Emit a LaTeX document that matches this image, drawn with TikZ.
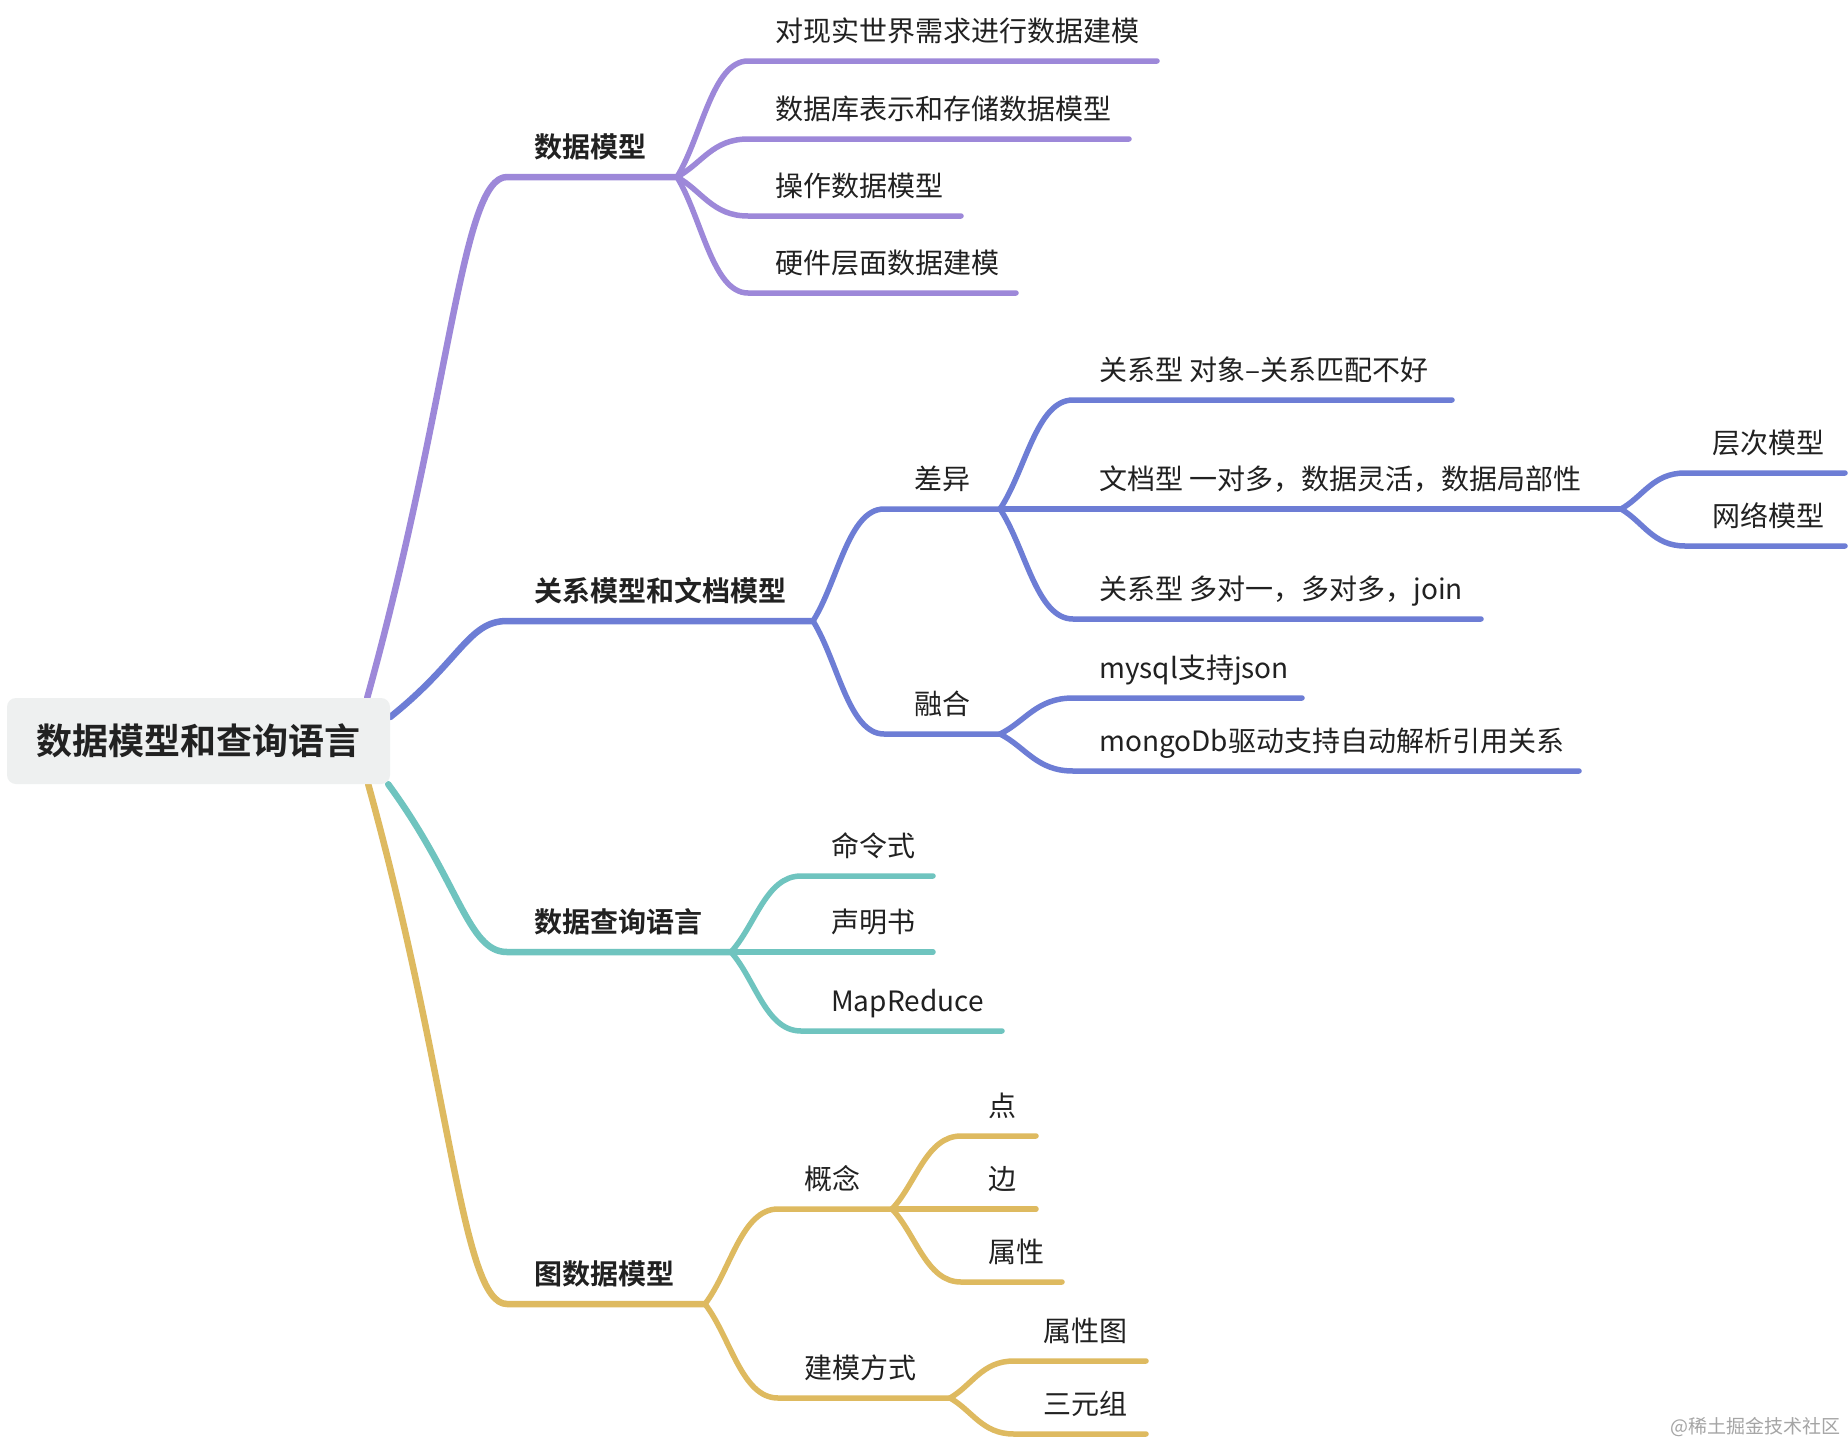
\documentclass[tikz,border=0pt]{standalone}
\usepackage{fontspec}
\setmainfont{Noto Sans CJK SC}[BoldFont={Noto Sans CJK SC Bold}]
\usetikzlibrary{calc,backgrounds}
\definecolor{cpur}{RGB}{157,136,217}
\definecolor{cblu}{RGB}{109,125,213}
\definecolor{ctea}{RGB}{111,196,191}
\definecolor{cgol}{RGB}{222,186,96}
\definecolor{cfill}{RGB}{238,240,240}
\definecolor{ctext}{RGB}{33,33,33}
\definecolor{cwm}{RGB}{165,165,165}
\newcommand\mmlink[7]{%
  \draw[#1] let \p1=(#2), \p2=(#3) in
    (\p1) .. controls ({\x1+#5*(\x2-\x1)},{\y1+#6*(\y2-\y1)}) and ({\x2-#7*(\x2-\x1)},\y2) .. (\p2) -- (#4);}
\tikzset{
  lbl/.style={anchor=base west, inner sep=0pt, font=\fontsize{28}{32}\selectfont, text=ctext},
  lblb/.style={lbl, font=\fontsize{28}{32}\selectfont\bfseries},
  rootbox/.style={fill=cfill, rounded corners=9pt, minimum width=383pt, minimum height=86pt,
    inner sep=0pt, font=\fontsize{36}{40}\selectfont\bfseries, text=ctext},
  wm/.style={inner sep=0pt, font=\fontsize{19}{22}\selectfont, text=cwm},
  lone/.style={line width=6.5pt, line cap=round, line join=round},
  ltwo/.style={line width=5.5pt, line cap=round, line join=round},
  pur1/.style={lone, draw=cpur}, pur2/.style={ltwo, draw=cpur},
  blu1/.style={lone, draw=cblu}, blu2/.style={ltwo, draw=cblu},
  tea1/.style={lone, draw=ctea}, tea2/.style={ltwo, draw=ctea},
  gol1/.style={lone, draw=cgol}, gol2/.style={ltwo, draw=cgol},
}
\begin{document}
\begin{tikzpicture}[x=1pt, y=-1pt]
\useasboundingbox (0,0) rectangle (1848,1443);

% root
\node[rootbox] (root) at (198.5,741) {数据模型和查询语言};
\coordinate (rp) at ([xshift=-23pt]root.north east);
\coordinate (rb) at ([yshift=24pt]root.east);
\coordinate (rt) at ([xshift=-2pt]root.south east);
\coordinate (rg) at ([xshift=-22pt]root.south east);

% ---------- coordinates ----------
% purple
\coordinate (ps) at (507,177); \coordinate (pf) at (677,177);
\coordinate (p1s) at (748,61);  \coordinate (p1e) at (1157,61);
\coordinate (p2s) at (748,139); \coordinate (p2e) at (1129,139);
\coordinate (p3s) at (748,216); \coordinate (p3e) at (961,216);
\coordinate (p4s) at (748,293); \coordinate (p4e) at (1016,293);
% blue
\coordinate (bs) at (507,621); \coordinate (bf) at (813,621);
\coordinate (b1s) at (884,509); \coordinate (b1f) at (1000,509);
\coordinate (b2s) at (884,734); \coordinate (b2f) at (1000,734);
\coordinate (b11s) at (1073,400); \coordinate (b11e) at (1452,400);
\coordinate (b12s) at (1073,509); \coordinate (b12f) at (1621,509);
\coordinate (b121s) at (1685,473); \coordinate (b121e) at (1845,473);
\coordinate (b122s) at (1685,546); \coordinate (b122e) at (1845,546);
\coordinate (b13s) at (1073,619); \coordinate (b13e) at (1481,619);
\coordinate (b21s) at (1073,698); \coordinate (b21e) at (1302,698);
\coordinate (b22s) at (1073,771); \coordinate (b22e) at (1579,771);
% teal
\coordinate (ts) at (507,952); \coordinate (tf) at (731,952);
\coordinate (t1s) at (801,876);  \coordinate (t1e) at (933,876);
\coordinate (t2s) at (801,952);  \coordinate (t2e) at (933,952);
\coordinate (t3s) at (801,1031); \coordinate (t3e) at (1002,1031);
% gold
\coordinate (gs) at (507,1304); \coordinate (gf) at (705,1304);
\coordinate (g1s) at (778,1209); \coordinate (g1f) at (892,1209);
\coordinate (g2s) at (778,1398); \coordinate (g2f) at (950,1398);
\coordinate (g11s) at (961,1136); \coordinate (g11e) at (1036,1136);
\coordinate (g12s) at (961,1209); \coordinate (g12e) at (1036,1209);
\coordinate (g13s) at (961,1282); \coordinate (g13e) at (1062,1282);
\coordinate (g21s) at (1014,1361); \coordinate (g21e) at (1146,1361);
\coordinate (g22s) at (1014,1434); \coordinate (g22e) at (1146,1434);

% ---------- connectors ----------
\begin{scope}[on background layer]
\fill[white] (0,0) rectangle (1848,1443);
\mmlink{pur1}{rp}{ps}{pf}{0.6}{0.58}{0.33}
\mmlink{blu1}{rb}{bs}{bf}{0.6}{0.58}{0.33}
\mmlink{tea1}{rt}{ts}{tf}{0.6}{0.58}{0.33}
\mmlink{gol1}{rg}{gs}{gf}{0.6}{0.58}{0.33}

\mmlink{pur2}{pf}{p1s}{p1e}{0.35}{0.35}{0.5}
\mmlink{pur2}{pf}{p2s}{p2e}{0.35}{0.35}{0.5}
\mmlink{pur2}{pf}{p3s}{p3e}{0.35}{0.35}{0.5}
\mmlink{pur2}{pf}{p4s}{p4e}{0.35}{0.35}{0.5}

\mmlink{blu2}{bf}{b1s}{b1f}{0.35}{0.35}{0.5}
\mmlink{blu2}{bf}{b2s}{b2f}{0.35}{0.35}{0.5}
\mmlink{blu2}{b1f}{b11s}{b11e}{0.35}{0.35}{0.5}
\mmlink{blu2}{b1f}{b12s}{b12f}{0.35}{0.35}{0.5}
\mmlink{blu2}{b1f}{b13s}{b13e}{0.35}{0.35}{0.5}
\mmlink{blu2}{b12f}{b121s}{b121e}{0.35}{0.35}{0.5}
\mmlink{blu2}{b12f}{b122s}{b122e}{0.35}{0.35}{0.5}
\mmlink{blu2}{b2f}{b21s}{b21e}{0.35}{0.35}{0.5}
\mmlink{blu2}{b2f}{b22s}{b22e}{0.35}{0.35}{0.5}

\mmlink{tea2}{tf}{t1s}{t1e}{0.35}{0.35}{0.5}
\mmlink{tea2}{tf}{t2s}{t2e}{0.35}{0.35}{0.5}
\mmlink{tea2}{tf}{t3s}{t3e}{0.35}{0.35}{0.5}

\mmlink{gol2}{gf}{g1s}{g1f}{0.35}{0.35}{0.5}
\mmlink{gol2}{gf}{g2s}{g2f}{0.35}{0.35}{0.5}
\mmlink{gol2}{g1f}{g11s}{g11e}{0.35}{0.35}{0.5}
\mmlink{gol2}{g1f}{g12s}{g12e}{0.35}{0.35}{0.5}
\mmlink{gol2}{g1f}{g13s}{g13e}{0.35}{0.35}{0.5}
\mmlink{gol2}{g2f}{g21s}{g21e}{0.35}{0.35}{0.5}
\mmlink{gol2}{g2f}{g22s}{g22e}{0.35}{0.35}{0.5}
\end{scope}

% ---------- labels ----------
\node[lblb] (pt) at ([shift={(27,-19.5)}]ps) {数据模型};
\node[lbl] (p1t) at ([shift={(27,-19.5)}]p1s) {对现实世界需求进行数据建模};
\node[lbl] (p2t) at ([shift={(27,-19.5)}]p2s) {数据库表示和存储数据模型};
\node[lbl] (p3t) at ([shift={(27,-19.5)}]p3s) {操作数据模型};
\node[lbl] (p4t) at ([shift={(27,-19.5)}]p4s) {硬件层面数据建模};

\node[lblb] (bt) at ([shift={(27,-19.5)}]bs) {关系模型和文档模型};
\node[lbl] (b1t) at ([shift={(30,-19.5)}]b1s) {差异};
\node[lbl] (b2t) at ([shift={(30,-19.5)}]b2s) {融合};
\node[lbl] (b11t) at ([shift={(26,-19.5)}]b11s) {关系型 对象–关系匹配不好};
\node[lbl] (b12t) at ([shift={(26,-19.5)}]b12s) {文档型 一对多，数据灵活，数据局部性};
\node[lbl] (b121t) at ([shift={(27,-19.5)}]b121s) {层次模型};
\node[lbl] (b122t) at ([shift={(27,-19.5)}]b122s) {网络模型};
\node[lbl] (b13t) at ([shift={(26,-19.5)}]b13s) {关系型 多对一，多对多，join};
\node[lbl] (b21t) at ([shift={(26,-19.5)}]b21s) {mysql支持json};
\node[lbl] (b22t) at ([shift={(26,-19.5)}]b22s) {mongoDb驱动支持自动解析引用关系};

\node[lblb] (tt) at ([shift={(27,-19.5)}]ts) {数据查询语言};
\node[lbl] (t1t) at ([shift={(30,-19.5)}]t1s) {命令式};
\node[lbl] (t2t) at ([shift={(30,-19.5)}]t2s) {声明书};
\node[lbl] (t3t) at ([shift={(30,-19.5)}]t3s) {MapReduce};

\node[lblb] (gt) at ([shift={(27,-19.5)}]gs) {图数据模型};
\node[lbl] (g1t) at ([shift={(26,-19.5)}]g1s) {概念};
\node[lbl] (g2t) at ([shift={(26,-19.5)}]g2s) {建模方式};
\node[lbl] (g11t) at ([shift={(27,-19.5)}]g11s) {点};
\node[lbl] (g12t) at ([shift={(27,-19.5)}]g12s) {边};
\node[lbl] (g13t) at ([shift={(27,-19.5)}]g13s) {属性};
\node[lbl] (g21t) at ([shift={(29,-19.5)}]g21s) {属性图};
\node[lbl] (g22t) at ([shift={(29,-19.5)}]g22s) {三元组};

\node[wm, anchor=east] (wmk) at (1841,1427) {@稀土掘金技术社区};
\end{tikzpicture}
\end{document}
